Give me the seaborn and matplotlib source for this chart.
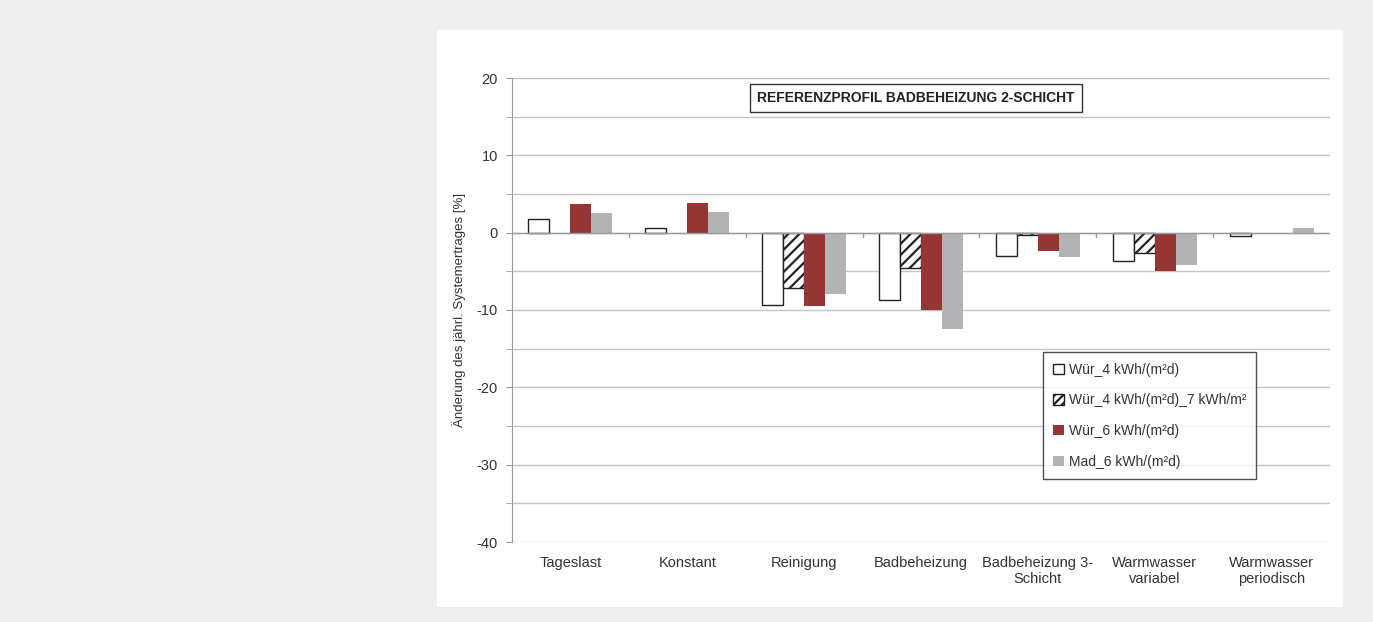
import numpy as np
import pandas as pd
import seaborn as sns
import matplotlib.pyplot as plt
from matplotlib.patches import Patch, Rectangle

# Kategorien und Werte (Änderung des jährl. Systemertrages in %)
kategorien = ['Tageslast', 'Konstant', 'Reinigung', 'Badbeheizung',
              'Badbeheizung 3-\nSchicht', 'Warmwasser\nvariabel', 'Warmwasser\nperiodisch']
serien = ['Wür_4 kWh/(m²d)', 'Wür_4 kWh/(m²d)_7 kWh/m²', 'Wür_6 kWh/(m²d)', 'Mad_6 kWh/(m²d)']
wuer_4 = [1.8, 0.6, -9.4, -8.7, -3.0, -3.6, -0.4]
wuer_4_7 = [np.nan, np.nan, -7.2, -4.6, -0.35, -2.6, np.nan]
wuer_6 = [3.7, 3.9, -9.5, -10.0, -2.4, -5.0, np.nan]
mad_6 = [2.5, 2.7, -7.9, -12.4, -3.2, -4.2, 0.6]

farben = ['white', 'white', '#943634', '#b3b3b6']

sns.set_style('white')
plt.rcParams['font.family'] = ['Liberation Sans', 'DejaVu Sans']
plt.rcParams['axes.unicode_minus'] = False
plt.rcParams['hatch.linewidth'] = 1.6

datos = pd.DataFrame({
    'kategorie': kategorien * 4,
    'serie': np.repeat(serien, len(kategorien)),
    'wert': wuer_4 + wuer_4_7 + wuer_6 + mad_6,
})

fig = plt.figure(figsize=(13.73, 6.22), dpi=100)
fig.patch.set_facecolor('#eeeeee')
# weisses Panel
fig.add_artist(Rectangle((437 / 1373, 1 - 607 / 622), (1343 - 437) / 1373, (607 - 30) / 622,
                         transform=fig.transFigure, facecolor='white', edgecolor='none', zorder=0))

ax = fig.add_axes([512 / 1373, 1 - 542 / 622, (1330 - 512) / 1373, (542 - 78) / 622])
sns.barplot(data=datos, x='kategorie', y='wert', hue='serie', order=kategorien, hue_order=serien,
            palette=farben, width=0.72, saturation=1, ax=ax, legend=False, errorbar=None)

for i, cont in enumerate(ax.containers):
    for p in cont:
        p.set_linewidth(0 if i >= 2 else 1.0)
        if i < 2:
            p.set_edgecolor('#222222')
        if i == 1:
            p.set_hatch('///')

ax.set_ylim(-40, 20)
ax.set_yticks(range(-40, 21, 10))
ax.set_yticks(range(-35, 20, 10), minor=True)
ax.set_xlim(-0.5, len(kategorien) - 0.5)
ax.grid(axis='y', which='both', color='#c4c4c4', linewidth=1.0)
ax.set_axisbelow(True)
ax.axhline(0, color='#9a9a9a', linewidth=1.0, zorder=1)
for x in np.arange(0.5, len(kategorien) - 0.5, 1):
    ax.plot([x, x], [0, -0.6], color='#9a9a9a', linewidth=1.0, zorder=1)

for s in ['top', 'right', 'bottom']:
    ax.spines[s].set_visible(False)
ax.spines['left'].set_color('#9a9a9a')
ax.tick_params(axis='y', which='both', direction='out', length=4, color='#9a9a9a',
               labelsize=10.5, labelcolor='#333333', left=True, pad=6)
ax.tick_params(axis='x', length=0, labelsize=10.5, labelcolor='#333333', pad=10)
ax.set_xlabel('')
ax.set_ylabel('Änderung des jährl. Systemertrages [%]', fontsize=9.5, color='#333333', labelpad=8)

ax.text(0.494, 0.957, 'REFERENZPROFIL BADBEHEIZUNG 2-SCHICHT', transform=ax.transAxes,
        ha='center', va='center', fontsize=10, fontweight='bold', color='#222222',
        bbox=dict(boxstyle='square,pad=0.5', facecolor='white', edgecolor='#333333', linewidth=1.0))

handles = [Patch(facecolor='white', edgecolor='#222222'),
           Patch(facecolor='white', edgecolor='#222222', hatch='////'),
           Patch(facecolor='#943634', edgecolor='none'),
           Patch(facecolor='#b3b3b6', edgecolor='none')]
leg = ax.legend(handles, serien, loc='upper left', bbox_to_anchor=(0.649, 0.409),
                frameon=True, fancybox=False, edgecolor='#222222', fontsize=10,
                handlelength=0.8, handleheight=0.8, handletextpad=0.3, labelspacing=1.2,
                borderpad=0.75, borderaxespad=0)
leg.get_frame().set_linewidth(1.0)
for t in leg.get_texts():
    t.set_color('#333333')

fig.savefig('out.png', dpi=100, facecolor=fig.get_facecolor())
